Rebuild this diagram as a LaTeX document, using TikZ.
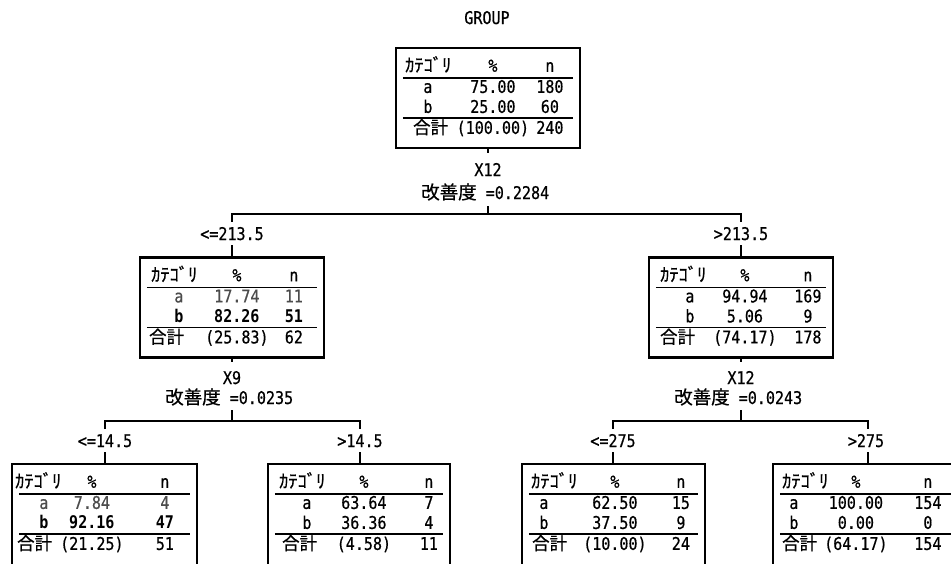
\documentclass[tikz,border=0pt]{standalone}
\usepackage{fontspec}
\setmainfont{DejaVu Sans Mono}[FakeStretch=0.86, UprightFeatures={FakeBold=0.6}]
\newfontfamily\jpf{Noto Sans CJK JP}[FakeBold=0.6]
\usetikzlibrary{calc}
\tikzset{
  txt/.style={font=\fontsize{17.5}{19}\selectfont, inner sep=0pt},
  jtxt/.style={font=\jpf\fontsize{18.5}{20}\selectfont, inner sep=0pt},
  jsum/.style={font=\jpf\fontsize{17.5}{19}\selectfont, inner sep=0pt},
  box/.style={draw, line width=2.2pt, minimum width=184pt, minimum height=100pt, inner sep=0pt},
  rulel/.style={line width=1.8pt},
  conn/.style={line width=1.6pt},
  lab/.style={font=\fontsize{17.5}{19}\selectfont, inner sep=5pt, anchor=base},
}
\newcommand\ctab[6]{%
  \def\cA{#3}\def\cB{#4}\def\cC{#5}%
  \node[jtxt,anchor=base west] (#1-hk) at ($(#1.north west)+(#2,25)$) {ｶﾃｺﾞﾘ};
  \node[txt,anchor=base] (#1-hp) at ($(#1.north west)+(#4,25)$) {\%};
  \node[txt,anchor=base] (#1-hn) at ($(#1.north west)+(#5,25)$) {n};
  \draw[rulel] ($(#1.north west)+(8,31)$) -- ($(#1.north east)+(-8,31)$);
  \draw[rulel] ($(#1.north west)+(8,71)$) -- ($(#1.north east)+(-8,71)$);
  \node[jsum,anchor=base west] (#1-hs) at ($(#1.north west)+(#6,87)$) {合計};
}
\newcommand\ctrow[5]{%
  \node[txt,anchor=base] (#1-#2a) at ($(#1.north west)+(\cA,#2)$) {#3};
  \node[txt,anchor=base] (#1-#2b) at ($(#1.north west)+(\cB,#2)$) {#4};
  \node[txt,anchor=base] (#1-#2c) at ($(#1.north west)+(\cC,#2)$) {#5};
}
\newcommand\gain[1]{{\jpf\fontsize{18.5}{20}\selectfont 改善度} =#1}
\begin{document}
\begin{tikzpicture}[x=1pt,y=-1pt]
\clip (0,0) rectangle (951,563);
\fill[white] (0,0) rectangle (951,563);

\node[txt,anchor=base] (title) at (487,24) {GROUP};

% boxes
\node[box] (n0) at (488,98) {};
\node[box] (n1) at (232,307.5) {};
\node[box] (n2) at (741,307.5) {};
\node[box,minimum width=185pt,minimum height=106pt] (n3) at (104.5,517) {};
\node[box,minimum width=182pt,minimum height=106pt] (n4) at (359,517) {};
\node[box,minimum width=183pt,minimum height=106pt] (n5) at (613.5,517) {};
\node[box,minimum width=190pt,minimum height=106pt] (n6) at (868,517) {};

% contents
\ctab{n0}{10}{33}{98}{155}{18}
\ctrow{n0}{46}{a}{75.00}{180}
\ctrow{n0}{66}{b}{25.00}{60}
\ctrow{n0}{87}{}{(100.00)}{240}

\ctab{n1}{12}{40}{98}{155}{10}
\ctrow{n1}{46}{\color{black!70}a}{\color{black!70}17.74}{\color{black!70}11}
\ctrow{n1}{66}{\bfseries b}{\bfseries 82.26}{\bfseries 51}
\ctrow{n1}{87}{}{(25.83)}{62}

\ctab{n2}{12}{42}{97}{160}{12}
\ctrow{n2}{46}{a}{94.94}{169}
\ctrow{n2}{66}{b}{5.06}{9}
\ctrow{n2}{87}{}{(74.17)}{178}

\ctab{n3}{4}{33}{81}{154}{6}
\ctrow{n3}{46}{\color{black!70}a}{\color{black!70}7.84}{\color{black!70}4}
\ctrow{n3}{66}{\bfseries b}{\bfseries 92.16}{\bfseries 47}
\ctrow{n3}{87}{}{(21.25)}{51}

\ctab{n4}{12}{40}{97}{162}{15}
\ctrow{n4}{46}{a}{63.64}{7}
\ctrow{n4}{66}{b}{36.36}{4}
\ctrow{n4}{87}{}{(4.58)}{11}

\ctab{n5}{10}{23}{94}{160}{11}
\ctrow{n5}{46}{a}{62.50}{15}
\ctrow{n5}{66}{b}{37.50}{9}
\ctrow{n5}{87}{}{(10.00)}{24}

\ctab{n6}{10}{22}{84}{156}{10}
\ctrow{n6}{46}{a}{100.00}{154}
\ctrow{n6}{66}{b}{0.00}{0}
\ctrow{n6}{87}{}{(64.17)}{154}

% split 0
\coordinate (t0) at (488,153);
\draw[conn] (n0.south) -- (t0);
\node[txt,anchor=base] (s0) at (488,176) {X12};
\node[txt,anchor=base west] (i0) at (421,199) {\gain{0.2284}};
\coordinate (u0) at (488,206);
\coordinate (h0) at (488,214);
\coordinate (h1) at (232,214);
\coordinate (h2) at (741,214);
\draw[conn] (u0) -- (h0);
\node[lab] (l1) at (232,240) {<=213.5};
\node[lab] (l2) at (741,240) {>213.5};
\draw[conn] (h1 |- l1.north) -- (h1) -- (h2) -- (h2 |- l2.north);
\draw[conn] (l1.south -| h1) -- (n1.north);
\draw[conn] (l2.south -| h2) -- (n2.north);

% split 1 (left)
\coordinate (t1) at (232,362);
\draw[conn] (n1.south) -- (t1);
\node[txt,anchor=base] (s1) at (232,384) {X9};
\node[txt,anchor=base west] (i1) at (165,404) {\gain{0.0235}};
\coordinate (u1) at (232,410);
\coordinate (h3) at (105,421);
\coordinate (h4) at (360,421);
\draw[conn] (u1) -- (u1 |- h3);
\node[lab] (l3) at (105,447) {<=14.5};
\node[lab] (l4) at (360,447) {>14.5};
\draw[conn] (h3 |- l3.north) -- (h3) -- (h4) -- (h4 |- l4.north);
\draw[conn] (l3.south -| h3) -- (n3.north -| h3);
\draw[conn] (l4.south -| h4) -- (n4.north -| h4);

% split 2 (right)
\coordinate (t2) at (741,362);
\draw[conn] (n2.south) -- (t2);
\node[txt,anchor=base] (s2) at (741,384) {X12};
\node[txt,anchor=base west] (i2) at (674,404) {\gain{0.0243}};
\coordinate (u2) at (741,410);
\coordinate (h5) at (613,421);
\coordinate (h6) at (868,421);
\draw[conn] (u2) -- (u2 |- h5);
\node[lab] (l5) at (613,447) {<=275};
\node[lab] (l6) at (866,447) {>275};
\draw[conn] (h5 |- l5.north) -- (h5) -- (h6) -- (h6 |- l6.north);
\draw[conn] (l5.south -| h5) -- (n5.north -| h5);
\draw[conn] (l6.south -| h6) -- (n6.north);
\end{tikzpicture}
\end{document}
